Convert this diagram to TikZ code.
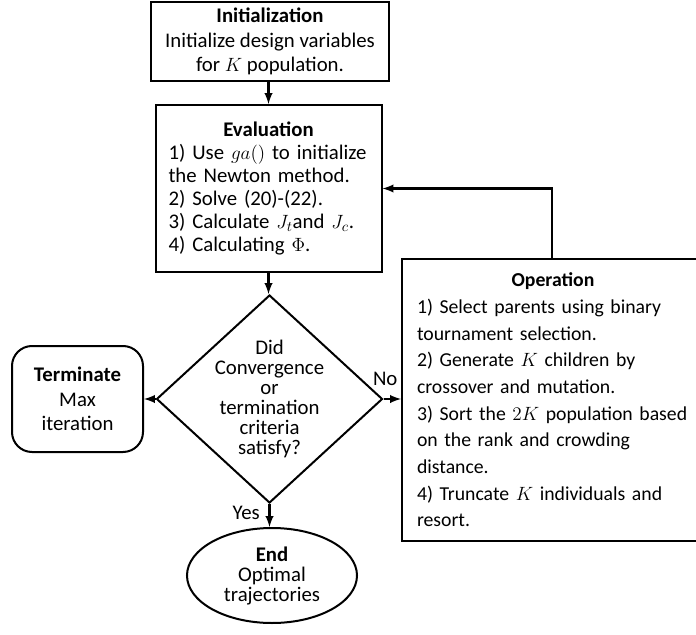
\documentclass[tikz,border=0pt]{standalone}
\usepackage{fontspec}
\setmainfont{Carlito}
\usetikzlibrary{shapes.geometric}

\tikzset{
  block/.style={draw, line width=1.5pt, inner sep=0pt, align=center},
  flow/.style={-latex, line width=1.8pt},
}

\begin{document}
\begin{tikzpicture}[x=0.75pt,y=0.75pt,yscale=-1,xscale=1]
\useasboundingbox (0,0) rectangle (696,635);
%Shape: Rectangle [Initialization]
\node [block, minimum width=178.5pt, minimum height=59.25pt, font=\fontsize{15.6}{18.4}\selectfont] (init) at (270,41.5) {\textbf{Initialization}\\Initialize design variables\\for $K$ population.};
%Shape: Rectangle [Evaluation]
\node [block, align=left, text width=150pt, inner xsep=9.75pt, minimum width=169.5pt, minimum height=125.25pt, font=\fontsize{15.6}{17.25}\selectfont] (eval) at (268.5,188.5) {\makebox[150pt]{\textbf{Evaluation}}\\1) Use $ga()$ to initialize\\the Newton method.\\2) Solve (20)-(22).\\3) Calculate $J_t$and $J_c$.\\4) Calculating $\Phi$.};
%Shape: Diamond [Decision]
\node [draw, diamond, line width=1.5pt, minimum width=169.5pt, minimum height=156pt, inner sep=0pt] (dec) at (269.5,399) {};
% Text Node
\node [align=center, font=\fontsize{15.6}{14.9}\selectfont] (dectext) at (dec.center) {Did\\Convergence\\or\\termination\\criteria\\satisfy?};
%Shape: Rounded Rectangle [Terminate]
\node [block, rounded corners=15pt, minimum width=98.25pt, minimum height=79.5pt, font=\fontsize{15.6}{18.4}\selectfont] (term) at (77.5,399) {\textbf{Terminate}\\Max\\iteration};
%Shape: Ellipse [End]
\node [block, ellipse, minimum width=127.5pt, minimum height=71.25pt, font=\fontsize{15.6}{15}\selectfont] (end) at (272,575.5) {\textbf{End}\\Optimal\\trajectories};
%Shape: Rectangle [Operation]
\node [block, anchor=north west, align=left, text width=225pt, inner xsep=11.25pt, minimum width=247.5pt, minimum height=211.5pt, font=\fontsize{14.8}{20}\selectfont] (oper) at (401,258) {\makebox[204pt]{\textbf{Operation}}\\1) Select parents using binary\\tournament selection.\\2) Generate $K$ children by\\crossover and mutation.\\3) Sort the $2K$ population based\\on the rank and crowding\\distance.\\4) Truncate $K$ individuals and\\resort.};

%Straight Lines
\draw [flow] (eval.north |- init.south) -- (eval.north);
\draw [flow] (eval.south) -- (eval.south |- dec.north);
\draw [flow] (dec.west) -- (term.east);
\draw [flow] (dec.east) -- (dec.east -| oper.west) node [pos=0.1, above=6pt, font=\fontsize{15.6}{18}\selectfont] {No};
\draw [flow] (dec.south) -- (dec.south |- end.north) node [pos=0.4, left=3pt, font=\fontsize{15.6}{18}\selectfont] {Yes};
%Loop back
\draw [flow] ([xshift=-11.25pt]oper.north) |- (eval.east);
\end{tikzpicture}
\end{document}
